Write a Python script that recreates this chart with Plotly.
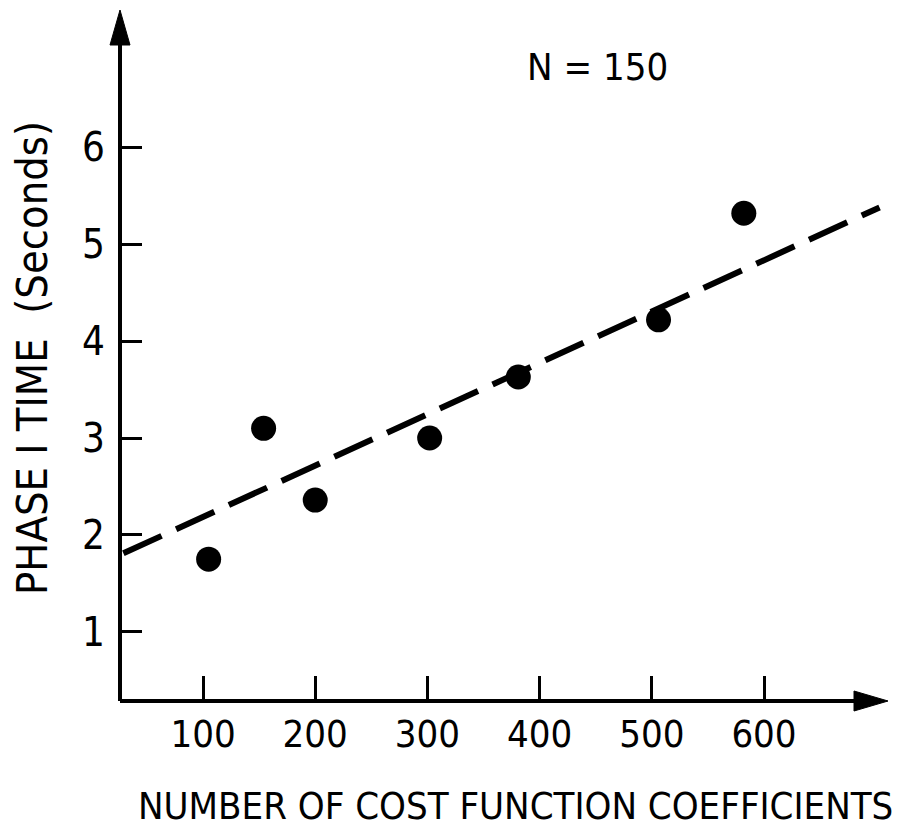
import plotly.graph_objects as go

# ---- data ----
coefficients = [105, 154, 200, 302, 381, 506, 582]
phase_time = [1.75, 3.10, 2.36, 3.00, 3.63, 4.22, 5.32]
fit_x = [29, 703]
fit_y = [1.81, 5.38]
x_ticks = [100, 200, 300, 400, 500, 600]
y_ticks = [1, 2, 3, 4, 5, 6]
x_title = "NUMBER OF COST FUNCTION COEFFICIENTS"
y_title = "PHASE I TIME  (Seconds)"
note = "N = 150"

FONT = "Liberation Sans Narrow, Arial Narrow, DejaVu Sans Condensed, sans-serif"

fig = go.Figure()
fig.add_trace(go.Scatter(x=fit_x, y=fit_y, mode="lines",
                         line=dict(color="black", width=6, dash="42px,16px"),
                         showlegend=False, hoverinfo="skip"))
fig.add_trace(go.Scatter(x=coefficients, y=phase_time, mode="markers",
                         marker=dict(color="black", size=25, line=dict(width=0)),
                         showlegend=False, cliponaxis=False))

# the page body has an 8px margin; lay the figure out in page pixels
OFF = 8
W, H = 909 - OFF, 839 - OFF
L, R, T, B = 112, 19, 0, 138
pw, ph = W - L - R, H - T - B

def px(x):
    return (x - OFF - L) / pw

def py(y):
    return (H - B - (y - OFF)) / ph

shapes = [
    dict(type="line", xref="paper", yref="paper", x0=0, x1=0, y0=0, y1=py(40),
         line=dict(color="black", width=4)),
    dict(type="line", xref="paper", yref="paper", x0=0, x1=px(860), y0=0, y1=0,
         line=dict(color="black", width=4)),
    dict(type="path", xref="paper", yref="paper",
         path=f"M {px(120)} {py(10)} L {px(110)} {py(45)} L {px(130)} {py(45)} Z",
         fillcolor="black", line=dict(color="black", width=1)),
    dict(type="path", xref="paper", yref="paper",
         path=f"M {px(888)} {py(701)} L {px(854)} {py(691)} L {px(854)} {py(711)} Z",
         fillcolor="black", line=dict(color="black", width=1)),
]

annotations = [
    dict(text=x_title, xref="paper", yref="paper", x=px(516), y=py(806),
         xanchor="center", yanchor="middle", showarrow=False,
         font=dict(family=FONT, size=38, color="black")),
    dict(text=y_title, xref="paper", yref="paper", x=px(32), y=py(358),
         xanchor="center", yanchor="middle", showarrow=False, textangle=-90,
         font=dict(family=FONT, size=43, color="black")),
    dict(text=note, xref="paper", yref="paper", x=px(597), y=py(67),
         xanchor="center", yanchor="middle", showarrow=False,
         font=dict(family=FONT, size=38, color="black")),
]

fig.update_layout(
    width=W, height=H,
    margin=dict(l=L, r=R, t=T, b=B, pad=0),
    paper_bgcolor="white", plot_bgcolor="white",
    shapes=shapes, annotations=annotations,
    font=dict(family=FONT, color="black"),
    xaxis=dict(range=[26.0, 712.3], tickvals=x_ticks, ticktext=[str(v) for v in x_ticks],
               ticks="inside", ticklen=25, tickwidth=3, tickcolor="black",
               showgrid=False, zeroline=False, showline=False,
               tickfont=dict(family=FONT, size=38, color="black"),
               ticklabelstandoff=7),
    yaxis=dict(range=[0.286, 7.438], tickvals=y_ticks, ticktext=[str(v) for v in y_ticks],
               ticks="inside", ticklen=22, tickwidth=3, tickcolor="black",
               showgrid=False, zeroline=False, showline=False,
               tickfont=dict(family=FONT, size=40, color="black"),
               ticklabelstandoff=14),
)

fig.write_html("out.html")
